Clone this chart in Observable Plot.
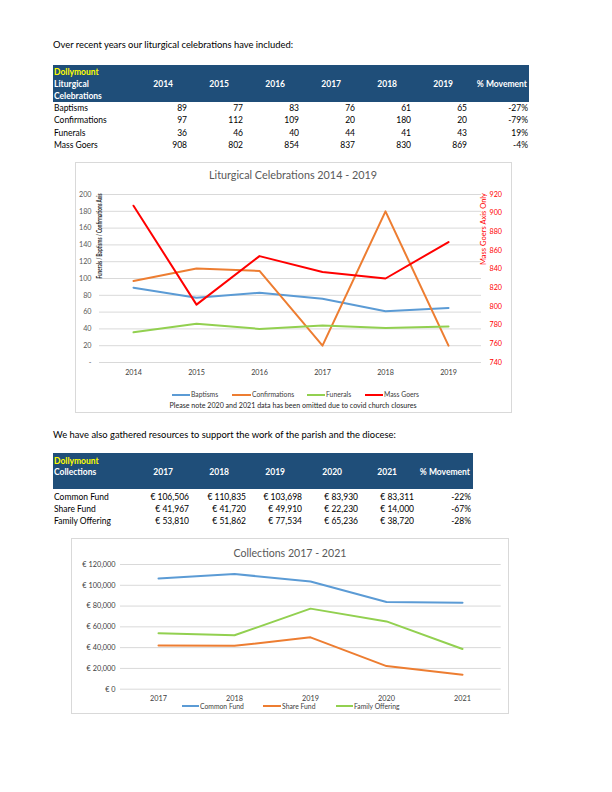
<!DOCTYPE html>
<html>
<head>
<meta charset="utf-8">
<script src="https://cdn.jsdelivr.net/npm/d3@7"></script>
<script src="https://cdn.jsdelivr.net/npm/@observablehq/plot@0.6"></script>
<style>
  html, body { margin: 0; padding: 0; background: #fff; }
  #page { position: relative; width: 612px; height: 792px; overflow: hidden; font-family: Lato, "Open Sans", sans-serif; color: #000; }
  .t { position: absolute; white-space: nowrap; }
  .abs { position: absolute; }
</style>
</head>
<body>
<div id="page"></div>
<script>
// ---------- DATA ----------
const years1 = ["2014", "2015", "2016", "2017", "2018", "2019"];
const baptisms = [89, 77, 83, 76, 61, 65];
const confirmations = [97, 112, 109, 20, 180, 20];
const funerals = [36, 46, 40, 44, 41, 43];
const massGoers = [908, 802, 854, 837, 830, 869];
const movement1 = ["-27%", "-79%", "19%", "-4%"];
const leftTicks = [0, 20, 40, 60, 80, 100, 120, 140, 160, 180, 200];
const rightTicks = [740, 760, 780, 800, 820, 840, 860, 880, 900, 920];

const years2 = ["2017", "2018", "2019", "2020", "2021"];
const commonFund = [106506, 110835, 103698, 83930, 83311];
const shareFund = [41967, 41720, 49910, 22230, 14000];
const familyOffering = [53810, 51862, 77534, 65236, 38720];
const movement2 = ["-22%", "-67%", "-28%"];
const euroTicks = [0, 20000, 40000, 60000, 80000, 100000, 120000];

const series1Names = ["Baptisms", "Confirmations", "Funerals", "Mass Goers"];
const series1Colors = ["#5B9BD5", "#ED7D31", "#92D050", "#FF0000"];
const series2Names = ["Common Fund", "Share Fund", "Family Offering"];
const series2Colors = ["#5B9BD5", "#ED7D31", "#92D050"];

// ---------- HELPERS ----------
const page = document.getElementById("page");
function text(x, y, str, o = {}) {
  const size = o.size || 8, lh = Math.round(size * 1.3);
  const d = document.createElement("div");
  d.className = "t";
  d.textContent = str;
  d.style.fontSize = size + "px";
  d.style.lineHeight = lh + "px";
  d.style.top = (y - lh / 2) + "px";
  d.style.fontWeight = o.weight || "normal";
  d.style.color = o.color || "#000";
  const align = o.align || "left";
  if (align === "left") { d.style.left = x + "px"; }
  else if (align === "right") { d.style.left = (x - 300) + "px"; d.style.width = "300px"; d.style.textAlign = "right"; }
  else { d.style.left = (x - 300) + "px"; d.style.width = "600px"; d.style.textAlign = "center"; }
  page.appendChild(d);
  return d;
}
function box(x, y, w, h, style) {
  const d = document.createElement("div");
  d.className = "abs";
  d.style.left = x + "px"; d.style.top = y + "px";
  d.style.width = w + "px"; d.style.height = h + "px";
  d.style.boxSizing = "border-box";
  Object.assign(d.style, style);
  page.appendChild(d);
  return d;
}
const fmtEuro = v => "€ " + d3.format(",")(v);
const TS = 8.5; // table font size

// ---------- TEXT 1 + TABLE 1 ----------
text(53, 45, "Over recent years our liturgical celebrations have included:", {size: 9.4});
box(53, 65, 476, 37, {background: "#1F4E79"});
text(54, 72, "Dollymount", {size: TS, weight: "bold", color: "#FFFF00"});
text(54, 84, "Liturgical", {size: TS, weight: "bold", color: "#fff"});
text(54, 96, "Celebrations", {size: TS, weight: "bold", color: "#fff"});
const hdr1X = [173, 229, 285, 341, 397, 453];
const dat1X = [187, 243, 299, 355, 411, 467];
years1.forEach((y, i) => text(hdr1X[i], 84, y, {size: TS, weight: "bold", color: "#fff", align: "right"}));
text(527, 84, "% Movement", {size: TS, weight: "bold", color: "#fff", align: "right"});
const rows1Y = [108, 120.5, 133, 145];
[baptisms, confirmations, funerals, massGoers].forEach((arr, r) => {
  text(54, rows1Y[r], series1Names[r], {size: TS});
  arr.forEach((v, i) => text(dat1X[i], rows1Y[r], String(v), {size: TS, align: "right"}));
  text(528, rows1Y[r], movement1[r], {size: TS, align: "right"});
});

// ---------- CHART 1 ----------
box(75, 162, 437, 251, {border: "1px solid #D9D9D9"});
text(293, 175, "Liturgical Celebrations 2014 - 2019", {size: 10.8, color: "#595959", align: "center"});

const toLeft = v => (v - rightTicks[0]) * (leftTicks[leftTicks.length - 1] - leftTicks[0]) / (rightTicks[rightTicks.length - 1] - rightTicks[0]) + leftTicks[0];
const fromLeft = v => Math.round(rightTicks[0] + (v - leftTicks[0]) * (rightTicks[rightTicks.length - 1] - rightTicks[0]) / (leftTicks[leftTicks.length - 1] - leftTicks[0]));
const rowsC1 = [];
[baptisms, confirmations, funerals, massGoers].forEach((arr, s) => {
  arr.forEach((v, i) => rowsC1.push({year: years1[i], series: series1Names[s], y: s === 3 ? toLeft(v) : v}));
});
const chart1 = Plot.plot({
  width: 437, height: 225,
  marginTop: 32, marginBottom: 25, marginLeft: 24, marginRight: 31,
  style: {fontFamily: "Lato, sans-serif", fontSize: "7.2px", color: "#595959", background: "transparent", overflow: "visible"},
  x: {type: "point", domain: years1, padding: 0.5},
  y: {domain: [leftTicks[0], leftTicks[leftTicks.length - 1]]},
  color: {domain: series1Names, range: series1Colors},
  marks: [
    Plot.ruleY(leftTicks, {stroke: "#D9D9D9", strokeWidth: 1}),
    Plot.axisX({tickSize: 0, tickPadding: 7.5, label: null, fill: "#404040"}),
    Plot.axisY({ticks: leftTicks, tickSize: 0, tickPadding: 8, label: null, fill: "#595959", tickFormat: d => d === 0 ? "-" : d}),
    Plot.axisY({anchor: "right", ticks: rightTicks.map(toLeft), tickSize: 0, tickPadding: 8, label: null, fill: "#FF0000", tickFormat: d => fromLeft(d)}),
    Plot.line(rowsC1, {x: "year", y: "y", z: "series", stroke: "series", strokeWidth: 2, strokeLinejoin: "round", strokeLinecap: "round"})
  ]
});
chart1.style.position = "absolute";
chart1.style.left = "75px";
chart1.style.top = "162px";
page.appendChild(chart1);

// axis titles (rotated)
function vtitle(cx, cy, len, str, o) {
  const d = document.createElement("div");
  d.className = "t";
  d.textContent = str;
  d.style.fontSize = o.size + "px";
  d.style.lineHeight = "1";
  d.style.fontWeight = o.weight || "normal";
  d.style.color = o.color || "#000";
  d.style.left = cx + "px";
  d.style.top = cy + "px";
  page.appendChild(d);
  const w = d.offsetWidth;
  d.style.transform = `translate(-50%,-50%) rotate(-90deg) scaleX(${len / w})`;
}
vtitle(100, 235.5, 85, "Funerals / Baptisms / Confirmations Axis", {size: 6.5, weight: "bold", color: "#262626"});
vtitle(483, 229, 72, "Mass Goers Axis Only", {size: 7, color: "#FF0000"});

// legend 1
function legendItem(x0, x1, y, color, label, size) {
  box(x0, y - 1, x1 - x0, 2, {background: color});
  text(x1 + 1, y, label, {size: size, color: "#404040"});
}
const leg1X = [[172, 190], [232, 251], [307, 325], [365, 383]];
series1Names.forEach((n, i) => legendItem(leg1X[i][0], leg1X[i][1], 394.5, series1Colors[i], n, 6.8));
text(293, 405.5, "Please note 2020 and 2021 data has been omitted due to covid church closures", {size: 7.1, color: "#262626", align: "center"});

// ---------- TEXT 2 + TABLE 2 ----------
text(53, 435, "We have also gathered resources to support the work of the parish and the diocese:", {size: 9.4});
box(53, 453, 420, 36, {background: "#1F4E79"});
text(54, 461, "Dollymount", {size: TS, weight: "bold", color: "#FFFF00"});
text(54, 472.5, "Collections", {size: TS, weight: "bold", color: "#fff"});
const hdr2X = [173, 229, 285, 342, 397];
const dat2X = [189, 246, 302, 358, 414];
years2.forEach((y, i) => text(hdr2X[i], 472.5, y, {size: TS, weight: "bold", color: "#fff", align: "right"}));
text(470, 472.5, "% Movement", {size: TS, weight: "bold", color: "#fff", align: "right"});
const rows2Y = [497, 509, 521];
[commonFund, shareFund, familyOffering].forEach((arr, r) => {
  text(54, rows2Y[r], series2Names[r], {size: TS});
  arr.forEach((v, i) => text(dat2X[i], rows2Y[r], fmtEuro(v), {size: TS, align: "right"}));
  text(471, rows2Y[r], movement2[r], {size: TS, align: "right"});
});

// ---------- CHART 2 ----------
box(71, 538, 438, 176, {border: "1px solid #D9D9D9"});
text(290, 553, "Collections 2017 - 2021", {size: 10.6, color: "#595959", align: "center"});
const rowsC2 = [];
[commonFund, shareFund, familyOffering].forEach((arr, s) => {
  arr.forEach((v, i) => rowsC2.push({year: years2[i], series: series2Names[s], v}));
});
const chart2 = Plot.plot({
  width: 438, height: 166,
  marginTop: 26, marginBottom: 15.3, marginLeft: 49, marginRight: 8.3,
  style: {fontFamily: "Lato, sans-serif", fontSize: "7.3px", color: "#595959", background: "transparent", overflow: "visible"},
  x: {type: "point", domain: years2, padding: 0.5},
  y: {domain: [euroTicks[0], euroTicks[euroTicks.length - 1]]},
  color: {domain: series2Names, range: series2Colors},
  marks: [
    Plot.ruleY(euroTicks, {stroke: "#D9D9D9", strokeWidth: 1}),
    Plot.axisX({tickSize: 0, tickPadding: 6.5, label: null, fill: "#404040"}),
    Plot.axisY({ticks: euroTicks, tickSize: 0, tickPadding: 5, label: null, fill: "#404040", tickFormat: fmtEuro}),
    Plot.line(rowsC2, {x: "year", y: "v", z: "series", stroke: "series", strokeWidth: 2, strokeLinejoin: "round", strokeLinecap: "round"})
  ]
});
chart2.style.position = "absolute";
chart2.style.left = "71px";
chart2.style.top = "538px";
page.appendChild(chart2);

const leg2X = [[182, 199], [263, 281], [336, 353]];
series2Names.forEach((n, i) => legendItem(leg2X[i][0], leg2X[i][1], 706, series2Colors[i], n, 6.8));
</script>
</body>
</html>
